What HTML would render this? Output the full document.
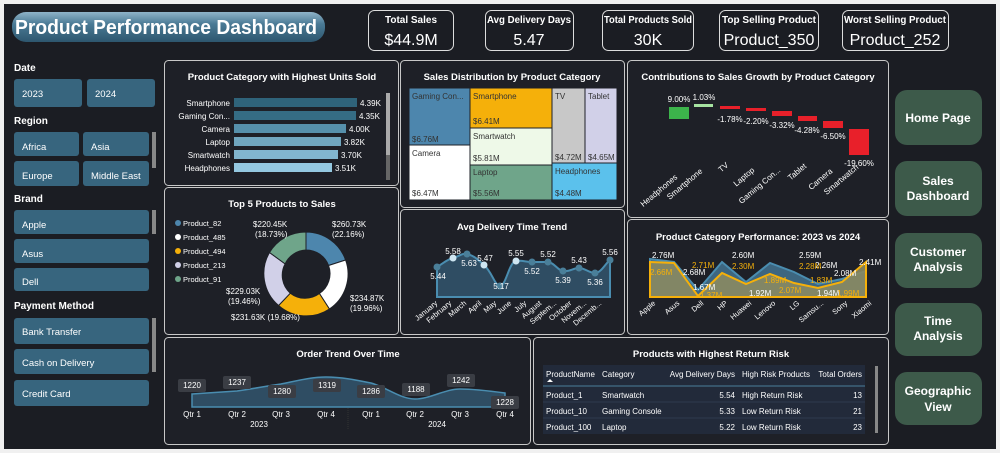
<!DOCTYPE html>
<html><head><meta charset="utf-8"><style>
body{margin:0;width:1000px;height:453px;overflow:hidden;background:#f0f0f0}
svg{display:block}
text{font-family:"Liberation Sans",sans-serif}
</style></head><body>
<svg width="1000" height="453" viewBox="0 0 1000 453" xmlns="http://www.w3.org/2000/svg">
<defs>
<linearGradient id="tg" x1="0" y1="0" x2="0" y2="1"><stop offset="0" stop-color="#8fb3c8"/><stop offset="0.4" stop-color="#4a7a95"/><stop offset="1" stop-color="#2d566e"/></linearGradient>
</defs>
<rect x="4" y="4" width="992" height="445" fill="#1b1d23"/>
<!-- title -->
<rect x="12" y="12" width="313" height="30" rx="14" fill="url(#tg)"/>
<text x="15" y="34" font-size="20" font-weight="bold" fill="#fff" textLength="302" lengthAdjust="spacingAndGlyphs">Product Performance Dashboard</text>
<!-- KPIs -->
<g fill="none" stroke="#ddd" stroke-width="1">
<rect x="368.5" y="10.5" width="85" height="40" rx="6"/>
<rect x="485.5" y="10.5" width="88" height="40" rx="6"/>
<rect x="602.5" y="10.5" width="91" height="40" rx="6"/>
<rect x="719.5" y="10.5" width="99" height="40" rx="6"/>
<rect x="842.5" y="10.5" width="106" height="40" rx="6"/>
</g>
<g fill="#fff" text-anchor="middle">
<text x="411" y="23" font-size="10" font-weight="bold">Total Sales</text>
<text x="411" y="45" font-size="16">$44.9M</text>
<text x="529" y="23" font-size="10" font-weight="bold" textLength="84" lengthAdjust="spacingAndGlyphs">Avg Delivery Days</text>
<text x="529" y="45" font-size="16">5.47</text>
<text x="648" y="23" font-size="10" font-weight="bold" textLength="88" lengthAdjust="spacingAndGlyphs">Total Products Sold</text>
<text x="648" y="45" font-size="16">30K</text>
<text x="769" y="23" font-size="10" font-weight="bold" textLength="94" lengthAdjust="spacingAndGlyphs">Top Selling Product</text>
<text x="769" y="45" font-size="16">Product_350</text>
<text x="895" y="23" font-size="10" font-weight="bold" textLength="102" lengthAdjust="spacingAndGlyphs">Worst Selling Product</text>
<text x="895" y="45" font-size="16">Product_252</text>
</g>
<!-- sidebar -->
<g font-size="10" font-weight="bold" fill="#fff">
<text x="14" y="71">Date</text><text x="14" y="124">Region</text><text x="14" y="202">Brand</text><text x="14" y="309">Payment Method</text>
</g>
<g fill="#37657e">
<rect x="14" y="79" width="68" height="28" rx="3"/><rect x="87" y="79" width="68" height="28" rx="3"/>
<rect x="14" y="132" width="65" height="24" rx="3"/><rect x="83" y="132" width="66" height="24" rx="3"/>
<rect x="14" y="161" width="65" height="25" rx="3"/><rect x="83" y="161" width="66" height="25" rx="3"/>
<rect x="14" y="210" width="135" height="24" rx="3"/><rect x="14" y="239" width="135" height="24" rx="3"/><rect x="14" y="268" width="135" height="23" rx="3"/>
<rect x="14" y="318" width="135" height="26" rx="3"/><rect x="14" y="349" width="135" height="25" rx="3"/><rect x="14" y="380" width="135" height="26" rx="3"/>
</g>
<g fill="#888"><rect x="152" y="132" width="4" height="36"/><rect x="152" y="210" width="4" height="24"/><rect x="152" y="318" width="4" height="54"/></g>
<g font-size="9.5" fill="#fff">
<text x="22" y="97">2023</text><text x="95" y="97">2024</text>
<text x="22" y="150">Africa</text><text x="91" y="150">Asia</text>
<text x="22" y="179">Europe</text><text x="91" y="179">Middle East</text>
<text x="22" y="228">Apple</text><text x="22" y="257">Asus</text><text x="22" y="285">Dell</text>
<text x="22" y="335">Bank Transfer</text><text x="22" y="366">Cash on Delivery</text><text x="22" y="397">Credit Card</text>
</g>
<!-- panels -->
<g fill="#1e2027" stroke="#c8c8c8" stroke-width="1">
<rect x="164.5" y="60.5" width="234" height="125" rx="4"/>
<rect x="400.5" y="60.5" width="224" height="147" rx="4"/>
<rect x="627.5" y="60.5" width="261" height="157" rx="4"/>
<rect x="164.5" y="187.5" width="234" height="147" rx="4"/>
<rect x="400.5" y="209.5" width="224" height="125" rx="4"/>
<rect x="627.5" y="219.5" width="261" height="115" rx="4"/>
<rect x="164.5" y="337.5" width="366" height="107" rx="4"/>
<rect x="533.5" y="337.5" width="355" height="107" rx="4"/>
</g>
<g font-size="9.5" font-weight="bold" fill="#fff" text-anchor="middle">
<text x="282" y="80">Product Category with Highest Units Sold</text>
<text x="512" y="80">Sales Distribution by Product Category</text>
<text x="758" y="80">Contributions to Sales Growth by Product Category</text>
<text x="282" y="207">Top 5 Products to Sales</text>
<text x="512" y="230">Avg Delivery Time Trend</text>
<text x="758" y="240">Product Category Performance: 2023 vs 2024</text>
<text x="348" y="357">Order Trend Over Time</text>
<text x="711" y="357">Products with Highest Return Risk</text>
</g>
<!-- bar chart -->
<g font-size="8" fill="#fff">
<g text-anchor="end">
<text x="230" y="106">Smartphone</text><text x="230" y="119">Gaming Con...</text><text x="230" y="132">Camera</text><text x="230" y="145">Laptop</text><text x="230" y="158">Smartwatch</text><text x="230" y="171">Headphones</text>
</g>
<rect x="234" y="98" width="123" height="9" fill="#2f637a"/>
<rect x="234" y="111" width="122" height="9" fill="#356c84"/>
<rect x="234" y="124" width="112" height="9" fill="#5690ab"/>
<rect x="234" y="137" width="107" height="9" fill="#70a6bf"/>
<rect x="234" y="150" width="104" height="9" fill="#82b6cf"/>
<rect x="234" y="163" width="98" height="9" fill="#94c8e0"/>
<text x="360" y="106">4.39K</text><text x="359" y="119">4.35K</text><text x="349" y="132">4.00K</text><text x="344" y="145">3.82K</text><text x="341" y="158">3.70K</text><text x="335" y="171">3.51K</text>
</g>
<rect x="386" y="93" width="4" height="87" fill="#666"/><rect x="386" y="93" width="4" height="62" fill="#aaa"/>
<!-- treemap -->
<g stroke="#1e2027" stroke-width="1">
<rect x="409" y="88" width="61" height="57" fill="#4d86ad"/>
<rect x="409" y="145" width="61" height="55" fill="#ffffff"/>
<rect x="470" y="88" width="82" height="40" fill="#f5b00a"/>
<rect x="470" y="128" width="82" height="37" fill="#eef9e8"/>
<rect x="470" y="165" width="82" height="35" fill="#6fa58a"/>
<rect x="552" y="88" width="33" height="75" fill="#c8c8c8"/>
<rect x="585" y="88" width="32" height="75" fill="#d1d0e8"/>
<rect x="552" y="163" width="65" height="37" fill="#5bc1ec"/>
</g>
<g font-size="8" fill="#333">
<text x="412" y="99">Gaming Con...</text><text x="412" y="142">$6.76M</text>
<text x="412" y="156">Camera</text><text x="412" y="196">$6.47M</text>
<text x="473" y="99">Smartphone</text><text x="473" y="124">$6.41M</text>
<text x="473" y="139">Smartwatch</text><text x="473" y="161">$5.81M</text>
<text x="473" y="175">Laptop</text><text x="473" y="196">$5.56M</text>
<text x="555" y="99">TV</text><text x="555" y="160">$4.72M</text>
<text x="588" y="99">Tablet</text><text x="588" y="160">$4.65M</text>
<text x="555" y="174">Headphones</text><text x="555" y="196">$4.48M</text>
</g>
<!-- waterfall -->
<g>
<rect x="669" y="107" width="20" height="12" fill="#3cb44b"/>
<rect x="694" y="104" width="19" height="3" fill="#a6e3a1"/>
<rect x="720" y="106" width="20" height="3" fill="#e8202a"/>
<rect x="746" y="108" width="20" height="3" fill="#e8202a"/>
<rect x="772" y="111" width="20" height="5" fill="#e8202a"/>
<rect x="798" y="116" width="19" height="5" fill="#e8202a"/>
<rect x="823" y="121" width="20" height="7" fill="#e8202a"/>
<rect x="849" y="129" width="20" height="26" fill="#e8202a"/>
</g>
<g font-size="8" fill="#fff" text-anchor="middle">
<text x="679" y="102">9.00%</text><text x="704" y="100">1.03%</text><text x="730" y="122">-1.78%</text><text x="756" y="124">-2.20%</text><text x="782" y="128">-3.32%</text><text x="807" y="133">-4.28%</text><text x="833" y="139">-6.50%</text><text x="859" y="166">-19.60%</text>
</g>
<g font-size="8" fill="#fff" text-anchor="end">
<text transform="translate(678,178) rotate(-40)">Headphones</text>
<text transform="translate(703,172) rotate(-40)">Smartphone</text>
<text transform="translate(729,166) rotate(-40)">TV</text>
<text transform="translate(755,171) rotate(-40)">Laptop</text>
<text transform="translate(781,171) rotate(-40)">Gaming Con...</text>
<text transform="translate(807,167) rotate(-40)">Tablet</text>
<text transform="translate(833,172) rotate(-40)">Camera</text>
<text transform="translate(859,168) rotate(-40)">Smartwatch</text>
</g>
<!-- donut -->
<g font-size="7.5" fill="#fff">
<circle cx="178" cy="223" r="3" fill="#4d86ad"/><text x="183" y="226">Product_82</text>
<circle cx="178" cy="237" r="3" fill="#fff"/><text x="183" y="240">Product_485</text>
<circle cx="178" cy="251" r="3" fill="#f5b00a"/><text x="183" y="254">Product_494</text>
<circle cx="178" cy="265" r="3" fill="#d1d0e8"/><text x="183" y="268">Product_213</text>
<circle cx="178" cy="279" r="3" fill="#6fa58a"/><text x="183" y="282">Product_91</text>
</g>
<g stroke="#1e2027" stroke-width="1">
<path d="M306,232 A42,42 0 0 1 345.6,260 L328.6,265.5 A24,24 0 0 0 306,250 Z" fill="#4d86ad"/>
<path d="M345.6,260 A42,42 0 0 1 329.4,309 L319.4,293.5 A24,24 0 0 0 328.6,265.5 Z" fill="#ffffff"/>
<path d="M329.4,309 A42,42 0 0 1 278.6,305.5 L290.3,293.2 A24,24 0 0 0 319.4,293.5 Z" fill="#f5b00a"/>
<path d="M278.6,305.5 A42,42 0 0 1 269.5,252.5 L285.1,263.9 A24,24 0 0 0 290.3,293.2 Z" fill="#d1d0e8"/>
<path d="M269.5,252.5 A42,42 0 0 1 306,232 L306,250 A24,24 0 0 0 285.1,263.9 Z" fill="#6fa58a"/>
</g>
<g font-size="8" fill="#fff">
<text x="332" y="227">$260.73K</text><text x="332" y="237">(22.16%)</text>
<text x="253" y="227">$220.45K</text><text x="255" y="237">(18.73%)</text>
<text x="350" y="301">$234.87K</text><text x="350" y="311">(19.96%)</text>
<text x="226" y="294">$229.03K</text><text x="228" y="304">(19.46%)</text>
<text x="231" y="320">$231.63K (19.68%)</text>
</g>
<!-- avg delivery -->
<path d="M437,267 C445,262 448,259 453,258 C460,256 462,253 467,254 C475,256 478,260 484,265 C492,272 495,286 500,286 C506,286 509,262 516,261 C522,260 526,262 532,262 L548,262 C555,263 557,270 563,271 C570,272 573,268 579,268 C585,268 589,273 595,273 C601,273 605,264 610,260 L610,297 L437,297 Z" fill="#2f4d63" stroke="#4a8db0" stroke-width="2"/>
<g fill="#4a7f99">
<circle cx="437" cy="267" r="3.5"/><circle cx="453" cy="258" r="3.5" fill="#cfe6f2"/><circle cx="467" cy="254" r="3.5"/><circle cx="484" cy="265" r="3.5" fill="#cfe6f2"/><circle cx="500" cy="286" r="3.5"/><circle cx="516" cy="261" r="3.5" fill="#cfe6f2"/><circle cx="532" cy="262" r="3.5"/><circle cx="548" cy="262" r="3.5"/><circle cx="563" cy="271" r="3.5"/><circle cx="579" cy="268" r="3.5"/><circle cx="595" cy="273" r="3.5"/><circle cx="610" cy="260" r="3.5"/>
</g>
<g font-size="8" fill="#fff" text-anchor="middle">
<text x="438" y="279">5.44</text><text x="453" y="254">5.58</text><text x="469" y="266">5.63</text><text x="485" y="261">5.47</text><text x="501" y="289">5.17</text><text x="516" y="256">5.55</text><text x="532" y="274">5.52</text><text x="548" y="257">5.52</text><text x="563" y="283">5.39</text><text x="579" y="263">5.43</text><text x="595" y="285">5.36</text><text x="610" y="255">5.56</text>
</g>
<g font-size="7.5" fill="#fff" text-anchor="end">
<text transform="translate(438,304) rotate(-40)">January</text><text transform="translate(452,304) rotate(-40)">February</text><text transform="translate(467,304) rotate(-40)">March</text><text transform="translate(482,304) rotate(-40)">April</text><text transform="translate(497,304) rotate(-40)">May</text><text transform="translate(512,304) rotate(-40)">June</text><text transform="translate(527,304) rotate(-40)">July</text><text transform="translate(542,304) rotate(-40)">August</text><text transform="translate(557,304) rotate(-40)">Septem...</text><text transform="translate(572,304) rotate(-40)">October</text><text transform="translate(587,304) rotate(-40)">Novem...</text><text transform="translate(602,304) rotate(-40)">Decemb...</text>
</g>
<!-- perf 2023 vs 2024 -->
<path d="M650,259 L674,262 L698,290 L722,262 L746,282 L770,263 L794,272 L818,284 L842,279 L866,271 L866,297 L650,297 Z" fill="#3d6680" stroke="#4a8db0" stroke-width="2"/>
<path d="M650,262 L674,263 L698,296 L722,273 L746,284 L770,274 L794,283 L818,288 L842,282 L866,262 L866,297 L650,297 Z" fill="#8a8a62" fill-opacity="0.9" stroke="#f5b00a" stroke-width="2"/>
<g font-size="8" fill="#fff">
<text x="652" y="258">2.76M</text><text x="683" y="275">2.68M</text><text x="693" y="290">1.67M</text><text x="732" y="258">2.60M</text><text x="749" y="296">1.92M</text><text x="799" y="258">2.59M</text><text x="815" y="268">2.26M</text><text x="817" y="296">1.94M</text><text x="834" y="276">2.08M</text><text x="859" y="265">2.41M</text>
</g>
<g font-size="8" fill="#f5b00a">
<text x="650" y="275">2.66M</text><text x="692" y="268">2.71M</text><text x="700" y="298">1.37M</text><text x="732" y="269">2.30M</text><text x="764" y="283">1.89M</text><text x="799" y="269">2.28M</text><text x="779" y="293">2.07M</text><text x="810" y="283">1.83M</text><text x="837" y="296">1.99M</text>
</g>
<g font-size="7.5" fill="#fff" text-anchor="end">
<text transform="translate(656,304) rotate(-40)">Apple</text><text transform="translate(680,304) rotate(-40)">Asus</text><text transform="translate(704,304) rotate(-40)">Dell</text><text transform="translate(728,304) rotate(-40)">HP</text><text transform="translate(752,304) rotate(-40)">Huawei</text><text transform="translate(776,304) rotate(-40)">Lenovo</text><text transform="translate(800,304) rotate(-40)">LG</text><text transform="translate(824,304) rotate(-40)">Samsu...</text><text transform="translate(848,304) rotate(-40)">Sony</text><text transform="translate(872,304) rotate(-40)">Xiaomi</text>
</g>
<!-- order trend -->
<path d="M192,394 C207,393 222,392 237,391 C252,389 266,386 281,384 C296,381 311,377 326,377 C341,377 356,380 371,383 C386,387 400,399 415,399 C430,399 445,389 460,389 C475,389 490,391 505,393 L505,407 L192,407 Z" fill="#2f4d63" stroke="#4a8db0" stroke-width="1.5"/>
<line x1="348" y1="408" x2="348" y2="430" stroke="#333" stroke-dasharray="1,1"/>
<g fill="#3a3d44">
<rect x="178" y="379" width="28" height="13" rx="2"/><rect x="223" y="376" width="28" height="13" rx="2"/><rect x="268" y="385" width="28" height="13" rx="2"/><rect x="313" y="379" width="28" height="13" rx="2"/><rect x="357" y="385" width="28" height="13" rx="2"/><rect x="402" y="383" width="28" height="13" rx="2"/><rect x="447" y="374" width="28" height="13" rx="2"/><rect x="491" y="396" width="28" height="13" rx="2"/>
</g>
<g font-size="8" fill="#fff" text-anchor="middle">
<text x="192" y="388">1220</text><text x="237" y="385">1237</text><text x="282" y="394">1280</text><text x="327" y="388">1319</text><text x="371" y="394">1286</text><text x="416" y="392">1188</text><text x="461" y="383">1242</text><text x="505" y="405">1228</text>
<text x="192" y="417">Qtr 1</text><text x="237" y="417">Qtr 2</text><text x="281" y="417">Qtr 3</text><text x="326" y="417">Qtr 4</text><text x="371" y="417">Qtr 1</text><text x="415" y="417">Qtr 2</text><text x="460" y="417">Qtr 3</text><text x="505" y="417">Qtr 4</text>
<text x="259" y="427">2023</text><text x="437" y="427">2024</text>
</g>
<!-- table -->
<rect x="543" y="365" width="322" height="69" fill="#222a3a"/>
<line x1="543" y1="386" x2="865" y2="386" stroke="#4a7f99"/>
<line x1="543" y1="402" x2="865" y2="402" stroke="#2f3a4f"/><line x1="543" y1="418" x2="865" y2="418" stroke="#2f3a4f"/>
<g font-size="8" fill="#fff">
<text x="546" y="377">ProductName</text><text x="602" y="377">Category</text><text x="735" y="377" text-anchor="end">Avg Delivery Days</text><text x="742" y="377">High Risk Products</text><text x="862" y="377" text-anchor="end">Total Orders</text>
<text x="546" y="398">Product_1</text><text x="602" y="398">Smartwatch</text><text x="735" y="398" text-anchor="end">5.54</text><text x="742" y="398">High Return Risk</text><text x="862" y="398" text-anchor="end">13</text>
<text x="546" y="414">Product_10</text><text x="602" y="414">Gaming Console</text><text x="735" y="414" text-anchor="end">5.33</text><text x="742" y="414">Low Return Risk</text><text x="862" y="414" text-anchor="end">21</text>
<text x="546" y="430">Product_100</text><text x="602" y="430">Laptop</text><text x="735" y="430" text-anchor="end">5.22</text><text x="742" y="430">Low Return Risk</text><text x="862" y="430" text-anchor="end">23</text>
</g>
<path d="M547,382 L550,379 L553,382 Z" fill="#fff"/>
<rect x="875" y="366" width="3" height="67" fill="#888"/>
<!-- right nav -->
<g fill="#3d5a4a">
<rect x="895" y="90" width="87" height="55" rx="12"/><rect x="895" y="161" width="87" height="55" rx="12"/><rect x="895" y="233" width="87" height="55" rx="12"/><rect x="895" y="303" width="87" height="53" rx="12"/><rect x="895" y="372" width="87" height="53" rx="12"/>
</g>
<g font-size="12" font-weight="bold" fill="#fff" text-anchor="middle">
<text x="938" y="122">Home Page</text>
<text x="938" y="185">Sales</text><text x="938" y="200">Dashboard</text>
<text x="938" y="256">Customer</text><text x="938" y="271">Analysis</text>
<text x="938" y="325">Time</text><text x="938" y="340">Analysis</text>
<text x="938" y="395">Geographic</text><text x="938" y="411">View</text>
</g>
</svg>
</body></html>
